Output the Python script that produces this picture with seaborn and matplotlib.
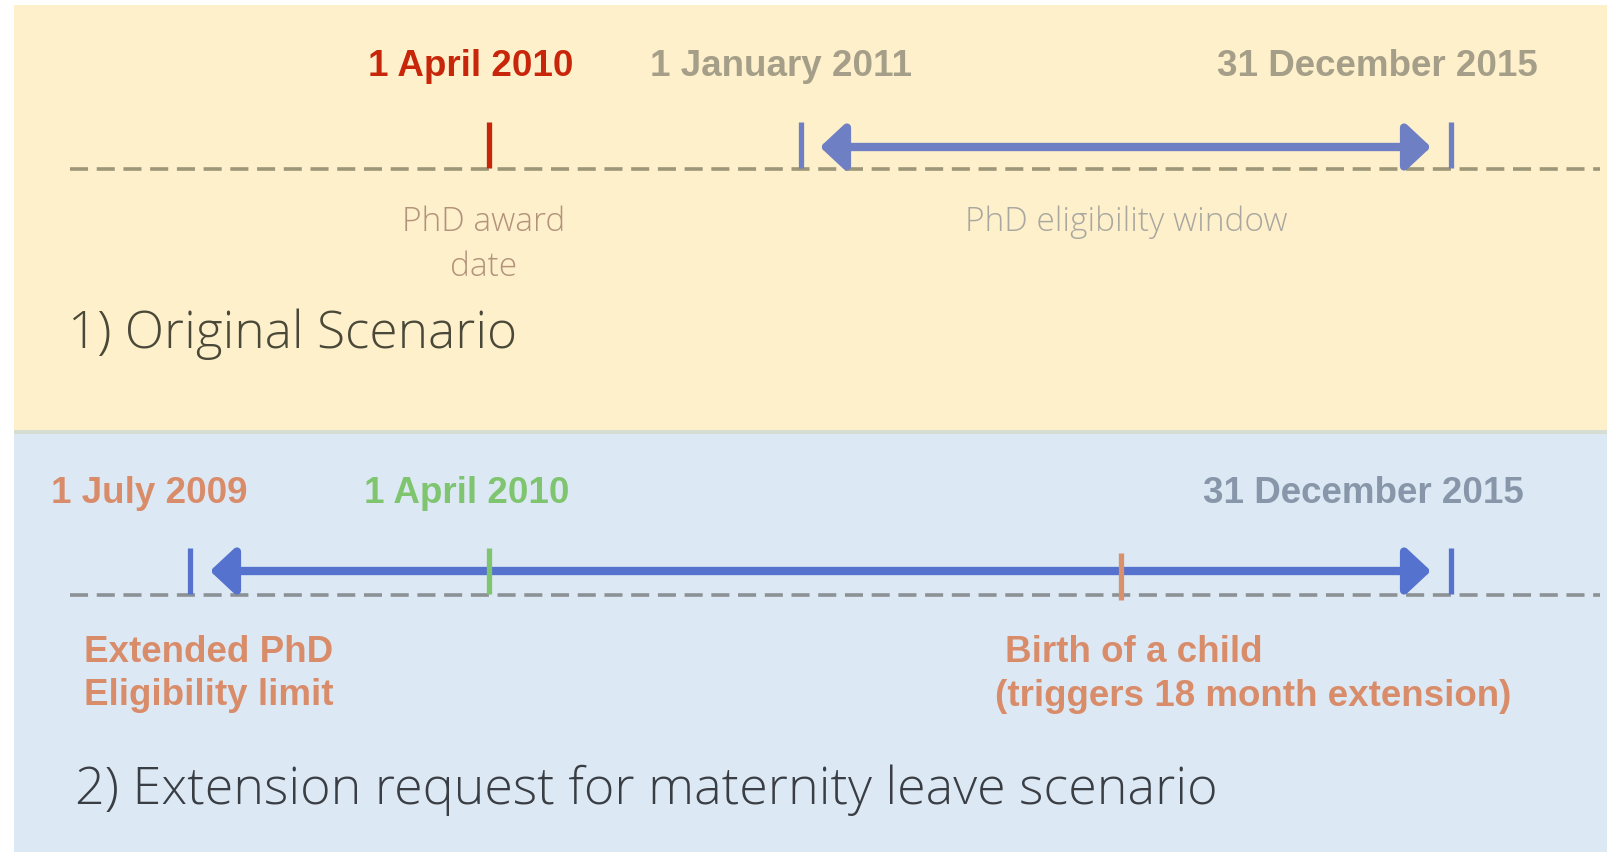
import matplotlib.pyplot as plt
import seaborn as sns

sns.set_theme(style="white")

# timeline 1: original scenario (schematic positions along the line)
top_dates = ["1 April 2010", "1 January 2011", "31 December 2015"]
top_pos = [489, 801, 1451]
top_colors = ["#C8260A", "#6F7FC4", "#6F7FC4"]
top_label_x = [471, 781, 1377]
top_label_colors = ["#C8260A", "#A59E88", "#A59E88"]
top_window = [820, 1431]

# timeline 2: maternity leave extension
bot_dates = ["1 July 2009", "1 April 2010", "31 December 2015"]
bot_pos = [190, 489, 1451]
bot_colors = ["#5672CF", "#7FC46E", "#5672CF"]
bot_label_x = [149, 467, 1363]
bot_label_colors = ["#D98C6A", "#7FC46E", "#8896AA"]
bot_window = [210, 1431]
birth_pos = 1121

BOLD = dict(family=["Liberation Sans Narrow", "Liberation Sans", "DejaVu Sans"],
            fontweight="bold", fontstretch="condensed")
LIGHT = dict(family=["Open Sans", "DejaVu Sans"], fontweight="light")

fig = plt.figure(figsize=(16.08, 8.52), dpi=100)
fig.patch.set_facecolor("white")

ax1 = fig.add_axes([14 / 1608, 422 / 852, 1594 / 1608, 425 / 852])
ax2 = fig.add_axes([14 / 1608, 0, 1594 / 1608, 418 / 852])
ax1.set_facecolor("#FEF0CB")
ax2.set_facecolor("#DCE9F4")
ax1.set_xlim(14, 1608)
ax1.set_ylim(430, 5)
ax2.set_xlim(14, 1608)
ax2.set_ylim(852, 434)
for ax in (ax1, ax2):
    ax.set_xticks([])
    ax.set_yticks([])
    for s in ax.spines.values():
        s.set_visible(False)

# divider strip between panels
fig.add_artist(plt.Rectangle((14 / 1608, 418 / 852), 1, 4 / 852,
                             transform=fig.transFigure, color="#D6DDD2", lw=0))


def timeline(ax, y, dash_color, pos, colors, window, arrow_color, y_arrow):
    ax.plot([70, 1600], [y, y], color=dash_color, lw=2.6, dashes=(5.0, 2.4),
            solid_capstyle="butt", zorder=2)
    ax.vlines(pos, y - 47, y - 1, colors=colors, lw=3.8, zorder=4)
    ax.annotate("", xy=(window[1], y_arrow), xytext=(window[0], y_arrow),
                arrowprops=dict(arrowstyle="<|-|>,head_length=0.75,head_width=0.7",
                                color=arrow_color, lw=6, shrinkA=0, shrinkB=0,
                                mutation_scale=20), zorder=3)


# panel 1
timeline(ax1, 169, "#9E9678", top_pos, top_colors, top_window, "#6F7FC4", 147)
for lab, x, c in zip(top_dates, top_label_x, top_label_colors):
    ax1.text(x, 67, lab, color=c, fontsize=26.5, ha="center", va="center", **BOLD)
ax1.text(484, 245, "PhD award\ndate", color="#B3927C", fontsize=24, ha="center",
         va="center", linespacing=1.45, **LIGHT)
ax1.text(1126, 222, "PhD eligibility window", color="#A8A7A0", fontsize=24,
         ha="center", va="center", **LIGHT)
ax1.text(68, 334, "1) Original Scenario", color="#4A4838", fontsize=37,
         ha="left", va="center", **LIGHT)

# panel 2
timeline(ax2, 595, "#8C9196", bot_pos, bot_colors, bot_window, "#5672CF", 571)
ax2.vlines([birth_pos], 553, 600, colors="#D9906C", lw=3.8, zorder=4)
for lab, x, c in zip(bot_dates, bot_label_x, bot_label_colors):
    ax2.text(x, 493, lab, color=c, fontsize=26.5, ha="center", va="center", **BOLD)
ax2.text(84, 674, "Extended PhD\nEligibility limit", color="#D98C6A", fontsize=26.5,
         ha="left", va="center", linespacing=1.3, **BOLD)
ax2.text(1005, 652, "Birth of a child", color="#D98C6A", fontsize=26.5,
         ha="left", va="center", **BOLD)
ax2.text(995, 696, "(triggers 18 month extension)", color="#D98C6A", fontsize=26.5,
         ha="left", va="center", **BOLD)
ax2.text(75, 790, "2) Extension request for maternity leave scenario",
         color="#3A3E44", fontsize=37.5, ha="left", va="center", **LIGHT)

fig.savefig("out.png", dpi=100, facecolor="white")
